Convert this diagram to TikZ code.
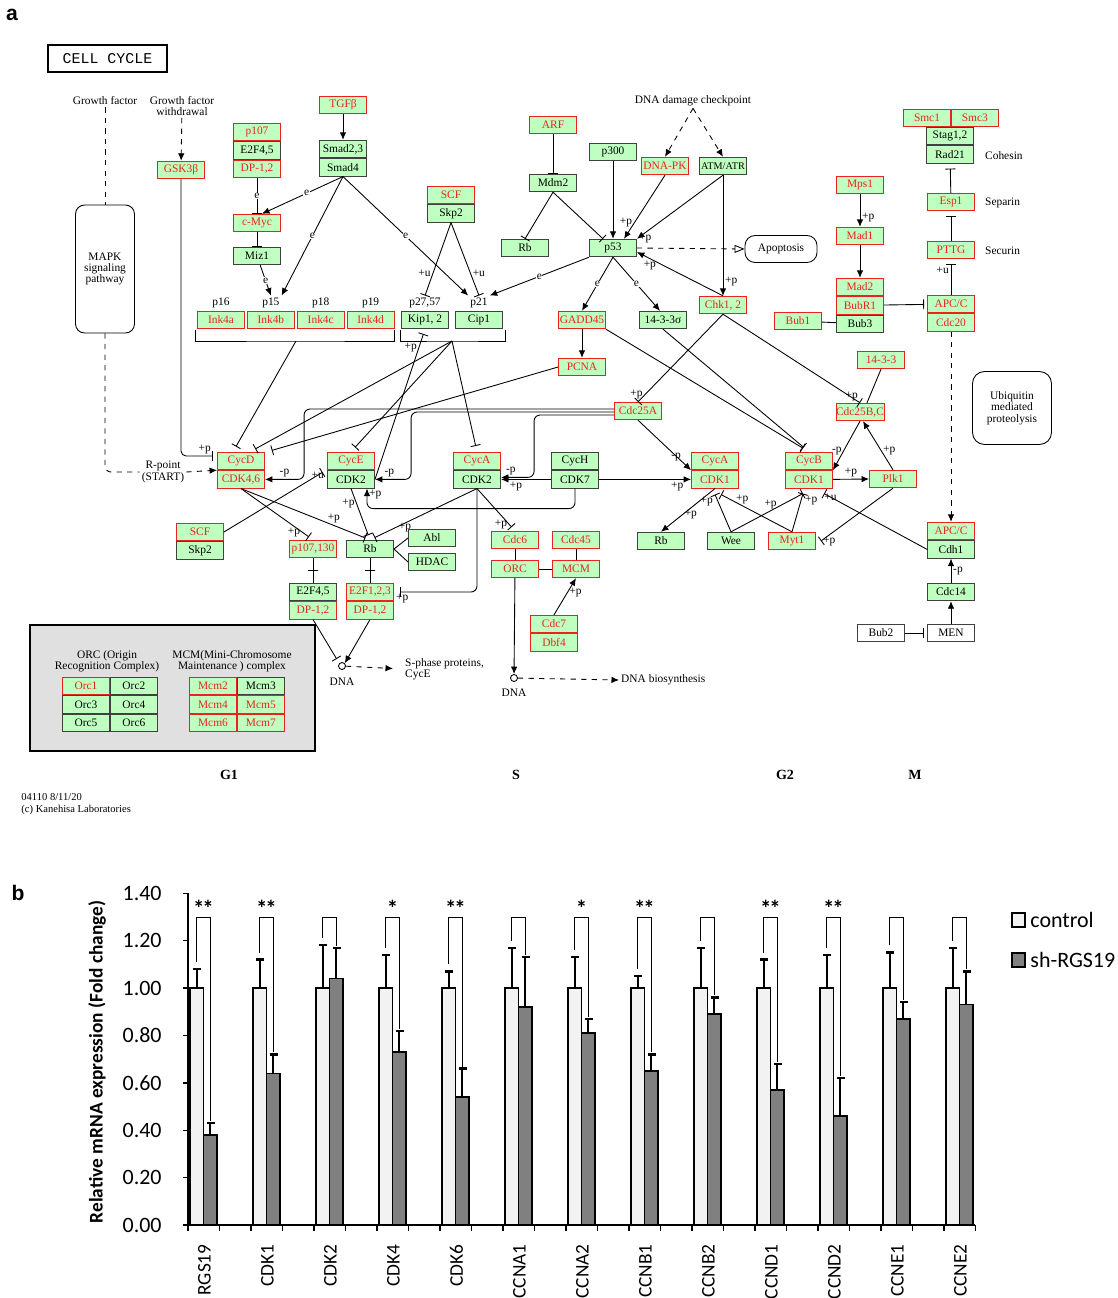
\documentclass[tikz,border=0pt]{standalone}
\usepackage{fontspec}
\setmainfont{Liberation Serif}
\newfontfamily\chartfont{Carlito}
\newfontfamily\panelfont{Liberation Sans}
\newfontfamily\titlefont{Liberation Mono}
\usepackage{tikz}
\usetikzlibrary{positioning,arrows.meta}
\usepackage{xcolor}
\definecolor{kfill}{RGB}{191,255,191}
\definecolor{kred}{RGB}{232,36,28}
\definecolor{ctrlbar}{RGB}{242,242,242}
\definecolor{shbar}{RGB}{128,128,128}
\definecolor{panelgray}{RGB}{224,224,224}
\newcommand{\kfont}{\fontsize{6.5}{6.5}\selectfont}
\newcommand{\dstar}{*\kern-1.2pt*}
\tikzset{
  gene/.style={draw=black!75, fill=kfill, font=\kfont, minimum width=0.94cm, minimum height=0.35cm, inner sep=0pt},
  hit/.style={gene, draw=kred, text=kred},
  whitebox/.style={gene, fill=white},
  lbl/.style={font=\kfont, inner sep=1pt},
  elbl/.style={font=\kfont, inner sep=0.3pt, fill=white},
  act/.style={-{Latex[length=1.5mm,width=1.3mm]}},
  inh/.style={-{Bar[width=2mm]}},
  tickbar/.style={draw, minimum width=0.2cm, minimum height=0pt, inner sep=0pt},
}

\begin{document}
\begin{tikzpicture}[x=0.02cm, y=-0.02cm, line width=0.5pt]
\path[use as bounding box, fill=white] (0,0) rectangle (1117,1298);

% panel a: KEGG cell cycle
\node[font=\panelfont\bfseries\fontsize{12}{14}\selectfont] (pa) at (12,15) {a};
\node[draw, line width=1.2pt, minimum width=2.38cm, minimum height=0.54cm, font=\titlefont\fontsize{8.5}{9}\selectfont] (title) at (107.5,58.5) {CELL CYCLE};

\node[lbl] (gf) at (105,101) {Growth factor};
\node[lbl, align=center] (gfw) at (182,106) {Growth factor\\withdrawal};
\node[draw, rounded corners=0.18cm, minimum width=1.18cm, minimum height=2.56cm, align=center, font=\kfont] (mapk) at (105,269) {MAPK\\signaling\\pathway};
\node[lbl, align=center] (rpoint) at (163,472) {R-point\\(START)};
\node[hit] (gsk) at (181,170) {GSK3β};

\node[hit] (tgfb) at (343,105) {TGFβ};
\node[gene] (smad23) at (343,149) {Smad2,3};
\node[gene, below=0pt of smad23] (smad4) {Smad4};
\node[hit] (p107) at (257,132) {p107};
\node[gene, below=0pt of p107] (e2f45a) {E2F4,5};
\node[hit, below=0pt of e2f45a] (dp12a) {DP-1,2};
\node[hit] (cmyc) at (257,223) {c-Myc};
\node[gene] (miz1) at (257,256) {Miz1};

\node[hit] (ink4a) at (221,320) {Ink4a};
\node[hit, right=0.04cm of ink4a] (ink4b) {Ink4b};
\node[hit, right=0.04cm of ink4b] (ink4c) {Ink4c};
\node[hit, right=0.04cm of ink4c] (ink4d) {Ink4d};
\node[lbl, above=0.5pt of ink4a] (p16) {p16};
\node[lbl, above=0.5pt of ink4b] (p15) {p15};
\node[lbl, above=0.5pt of ink4c] (p18) {p18};
\node[lbl, above=0.5pt of ink4d] (p19) {p19};
\node[gene] (kip) at (425,320) {Kip1, 2};
\node[gene] (cip) at (479,320) {Cip1};
\node[lbl, above=0.5pt of kip] (p2757) {p27,57};
\node[lbl, above=0.5pt of cip] (p21) {p21};
\coordinate (inkbr) at (296,341);
\coordinate (kipbr) at (452,341);
\draw (195,330) |- (inkbr) -| (394,330);
\draw (400,330) |- (kipbr) -| (505,330);

\node[hit] (scf1) at (451,195) {SCF};
\node[gene, below=0pt of scf1] (skp2a) {Skp2};
\node[hit] (arf) at (553,125) {ARF};
\node[gene] (mdm2) at (553,183) {Mdm2};
\node[gene] (rb1) at (525,248) {Rb};
\node[gene] (p300) at (613,152) {p300};
\node[lbl] (dnadmg) at (693,101) {DNA damage checkpoint};
\node[hit] (dnapk) at (665,166) {DNA-PK};
\node[gene, font=\fontsize{5.8}{6}\selectfont] (atm) at (723,166) {ATM/ATR};
\node[gene] (p53) at (613,248) {p53};
\node[draw, rounded corners=0.2cm, minimum width=1.44cm, minimum height=0.54cm, font=\kfont] (apop) at (781,249) {Apoptosis};
\node[hit] (chk) at (723,305) {Chk1, 2};
\node[hit] (gadd) at (582,320) {GADD45};
\node[gene] (sigma) at (663,320) {14-3-3σ};
\node[hit] (pcna) at (582,367) {PCNA};
\node[hit] (cdc25a) at (638,411) {Cdc25A};

\node[hit] (smc1) at (927,118) {Smc1};
\node[hit, right=0pt of smc1] (smc3) {Smc3};
\node[gene] (stag) at (950,136) {Stag1,2};
\node[gene, below=0pt of stag] (rad21) {Rad21};
\node[lbl, anchor=west] (cohesin) at (983,156) {Cohesin};
\node[hit] (esp1) at (951,202) {Esp1};
\node[lbl, anchor=west] (separin) at (983,203) {Separin};
\node[hit] (pttg) at (951,250) {PTTG};
\node[lbl, anchor=west] (securin) at (983,251) {Securin};
\node[hit] (apcc1) at (951,304) {APC/C};
\node[hit, below=0pt of apcc1] (cdc20) {Cdc20};
\node[hit] (mps1) at (860,185) {Mps1};
\node[hit] (mad1) at (860,236) {Mad1};
\node[hit] (mad2) at (860,287) {Mad2};
\node[hit, below=0pt of mad2] (bubr1) {BubR1};
\node[gene, below=0pt of bubr1] (bub3) {Bub3};
\node[hit] (bub1) at (798,321) {Bub1};
\node[hit] (s1433) at (881,360) {14-3-3};
\node[hit] (cdc25bc) at (860,412) {Cdc25B,C};
\node[draw, rounded corners=0.24cm, minimum width=1.58cm, minimum height=1.46cm, align=center, font=\kfont] (ubiq) at (1012,408) {Ubiquitin\\mediated\\proteolysis};

\node[hit] (cycd) at (241,461) {CycD};
\node[hit, below=0pt of cycd] (cdk46) {CDK4,6};
\node[hit] (cyce) at (351,461) {CycE};
\node[gene, below=0pt of cyce] (cdk2e) {CDK2};
\node[hit] (cyca2) at (477,461) {CycA};
\node[gene, below=0pt of cyca2] (cdk2a) {CDK2};
\node[gene] (cych) at (575,461) {CycH};
\node[gene, below=0pt of cych] (cdk7) {CDK7};
\node[hit] (cyca1) at (715,461) {CycA};
\node[hit, below=0pt of cyca1] (cdk1a) {CDK1};
\node[hit] (cycb) at (809,461) {CycB};
\node[hit, below=0pt of cycb] (cdk1b) {CDK1};
\node[hit] (plk1) at (893,479) {Plk1};

\node[hit] (scf2) at (200,532) {SCF};
\node[gene, below=0pt of scf2] (skp2b) {Skp2};
\node[hit] (p107130) at (313,549) {p107,130};
\node[gene] (rb2) at (370,549) {Rb};
\node[gene] (abl) at (432,538) {Abl};
\node[gene] (hdac) at (432,562) {HDAC};
\node[gene] (e2f45b) at (313,592) {E2F4,5};
\node[hit, below=0pt of e2f45b] (dp12b) {DP-1,2};
\node[hit] (e2f123) at (370,592) {E2F1,2,3};
\node[hit, below=0pt of e2f123] (dp12c) {DP-1,2};
\node[hit] (cdc6) at (515,540) {Cdc6};
\node[hit] (cdc45) at (576,540) {Cdc45};
\node[hit] (orc) at (515,569) {ORC};
\node[hit] (mcm) at (576,569) {MCM};
\node[hit] (cdc7) at (554,624) {Cdc7};
\node[hit, below=0pt of cdc7] (dbf4) {Dbf4};
\node[gene] (rb3) at (661,541) {Rb};
\node[gene] (wee) at (731,541) {Wee};
\node[hit] (myt1) at (792,541) {Myt1};
\node[hit] (apcc2) at (951,531) {APC/C};
\node[gene, below=0pt of apcc2] (cdh1) {Cdh1};
\node[gene] (cdc14) at (951,592) {Cdc14};
\node[whitebox] (men) at (951,633) {MEN};
\node[whitebox] (bub2) at (881,633) {Bub2};

\node[circle, draw, inner sep=0pt, minimum size=0.14cm] (dna1) at (342,666) {};
\node[lbl] (dna1t) at (342,682) {DNA};
\node[lbl, anchor=west, align=left] (sphase) at (403,669) {S-phase proteins,\\CycE};
\node[circle, draw, inner sep=0pt, minimum size=0.14cm] (dna2) at (514,678) {};
\node[lbl] (dna2t) at (514,693) {DNA};
\node[lbl, anchor=west] (dnabio) at (619,680) {DNA biosynthesis};

% ORC / MCM legend box
\draw[fill=panelgray, line width=1.2pt] (30,625) rectangle (315,751);
\node[lbl, align=center] (orclbl) at (107,661) {ORC (Origin\\Recognition Complex)};
\node[lbl, align=center] (mcmlbl) at (232,661) {MCM(Mini-Chromosome\\Maintenance ) complex};
\node[hit] (orc1) at (86,686) {Orc1};
\node[gene, right=0pt of orc1] (orc2) {Orc2};
\node[gene, below=0pt of orc1] (orc3) {Orc3};
\node[gene, right=0pt of orc3] (orc4) {Orc4};
\node[gene, below=0pt of orc3] (orc5) {Orc5};
\node[gene, right=0pt of orc5] (orc6) {Orc6};
\node[hit] (mcm2) at (213,686) {Mcm2};
\node[gene, right=0pt of mcm2] (mcm3) {Mcm3};
\node[hit, below=0pt of mcm2] (mcm4) {Mcm4};
\node[hit, right=0pt of mcm4] (mcm5) {Mcm5};
\node[hit, below=0pt of mcm4] (mcm6) {Mcm6};
\node[hit, right=0pt of mcm6] (mcm7) {Mcm7};

\node[font=\bfseries\fontsize{8}{9}\selectfont] (g1) at (229,775) {G1};
\node[font=\bfseries\fontsize{8}{9}\selectfont] (sph) at (516,775) {S};
\node[font=\bfseries\fontsize{8}{9}\selectfont] (g2) at (785,775) {G2};
\node[font=\bfseries\fontsize{8}{9}\selectfont] (mph) at (915,775) {M};
\node[font=\fontsize{6}{6.5}\selectfont, anchor=west, align=left, inner sep=0pt] (foot) at (21,804) {04110 8/11/20\\(c) Kanehisa Laboratories};

% connectors
\draw[dashed] (gf) -- (mapk);
\draw[dashed, rounded corners=0.12cm] (mapk.south) |- (rpoint.west);
\draw[dashed, act] (rpoint.east) -- (cycd.south west);
\draw[dashed, act] (gfw) -- (gsk);
\draw[inh, rounded corners=0.1cm] (gsk.south) |- ([xshift=-0.08cm, yshift=0.1cm]cycd.west) node[lbl, above left] {+p};
\draw[act] (tgfb) -- (smad23);
\draw[inh] (dp12a) -- node[elbl] {e} (cmyc);
\draw[act] (smad4.south) -- node[elbl, pos=0.45] {e} ([xshift=0.1cm]cmyc.north);
\draw[inh] (cmyc) -- (miz1);
\draw[act] (miz1) -- node[elbl] {e} (p15.north);
\draw[act] (smad4.south) -- node[elbl] {e} (p15.north east);
\draw[act] (smad4.south) -- node[elbl] {e} (p21.north west);
\draw[inh] (skp2a.south) -- node[lbl, left, pos=0.7] {+u} (p2757.north);
\draw[inh] (skp2a.south) -- node[lbl, right, pos=0.7] {+u} (p21.north);
\draw[inh] (arf) -- (mdm2);
\draw[inh] (mdm2.south) -- (rb1.north);
\draw[inh] (mdm2.south) -- ([xshift=-0.2cm]p53.north);
\draw[act] (p300) -- (p53);
\draw[dashed, act] (dnadmg.south) -- (dnapk.north);
\draw[dashed, act] (dnadmg.south) -- (atm.north);
\draw[act] (dnapk.south) -- node[lbl, left, pos=0.75] {+p} ([xshift=0.22cm]p53.north);
\draw[act] (atm.south) -- (p53.north east) node[lbl, right] {+p};
\draw[act] (atm.south) -- node[lbl, right, pos=0.88] {+p} (atm.south |- chk.north);
\draw[act] (chk.north) -- node[lbl, below, pos=0.85] {+p} ([yshift=-0.08cm]p53.east);
\draw[dashed, -{Triangle[open, length=2mm, width=1.6mm]}] (p53.east) -- (apop.west);
\draw[act] (p53.south west) -- node[elbl] {e} (p21.north east);
\draw[act] (p53.south) -- node[elbl] {e} (gadd.north);
\draw[act] (p53.south) -- node[elbl] {e} ([xshift=-0.06cm]sigma.north);
\draw[act] (gadd) -- (pcna);
\draw[inh] (chk.south) -- node[lbl, left, pos=0.92] {+p} (cdc25a.north);
\draw[inh] (chk.south) -- (cdc25bc.north) node[lbl, above left] {+p};
\draw (s1433.south) -- ([xshift=0.14cm]cdc25bc.north);
\draw[inh, shorten >=0.14cm] (gadd.south east) -- (cycb.north);
\draw[inh, shorten >=0.14cm] (sigma.south) -- (cycb.north);
\draw[act] (cdc25bc.south) -- node[lbl, left, pos=0.6] {-p} (cycb.south east);
\draw[act] (cdk1b.east) -- node[lbl, above] {+p} (plk1.west);
\draw[act] (plk1.north) -- node[lbl, right, pos=0.4] {+p} ([xshift=0.06cm]cdc25bc.south);
\draw[inh] (plk1.south) -- ([xshift=0.1cm]myt1.east) node[lbl, right] {+p};
\draw[act] (mps1) -- node[lbl, right, pos=0.7] {+p} (mad1);
\draw[act] (mad1) -- (mad2);
\draw (bub1) -- (bub3);
\draw[inh, shorten >=0.06cm] (bubr1) -- (apcc1);
\draw[inh, shorten >=0.1cm] (esp1) -- (rad21);
\draw[inh, shorten >=0.1cm] (pttg) -- (esp1);
\draw[inh, shorten >=0.1cm] (apcc1) -- node[lbl, left, pos=0.7] {+u} (pttg);
\draw[dashed, act] (cdc20) -- (apcc2);
\draw[act] (cdc14) -- node[lbl, right] {-p} (cdh1);
\draw[act] (men) -- (cdc14);
\draw[inh, shorten >=0.06cm] (bub2) -- (men);
\draw[inh] (cdh1.west) -- ([xshift=0.3cm, yshift=-0.1cm]cdk1b.south) node[lbl, below right, inner sep=0pt] {+u};
\draw[inh] (wee.north) -- ([yshift=-0.12cm]cdk1a.south) node[lbl, below left] {+p};
\draw[inh] (wee.north) -- ([xshift=-0.12cm, yshift=-0.1cm]cdk1b.south) node[lbl, pos=0.55, above] {+p};
\draw[inh] (myt1.north) -- ([xshift=0.12cm, yshift=-0.12cm]cdk1a.south) node[lbl, pos=0.7, above] {+p};
\draw[inh] (myt1.north) -- ([xshift=-0.12cm, yshift=-0.1cm]cdk1b.south) node[lbl, below right] {+p};
\draw[act] (cdk1a.south) -- node[lbl, right, pos=0.6] {+p} (rb3.north);
\draw[act] (cdk7.west) -- node[lbl, below, pos=0.7] {+p} (cdk2a.east);
\draw[act] (cdk7.east) -- node[lbl, below, pos=0.85] {+p} (cdk1a.west);
\draw[act, rounded corners=0.12cm] (cdk7.south) -- ++(0,20) -| node[lbl, right, pos=0.85] {+p} ([xshift=0.32cm]cdk2e.south);
\draw[act, rounded corners=0.12cm] ([yshift=-0.08cm]cdc25a.west) -- ++(-80,0) |- node[lbl, above, pos=0.85] {-p} ([yshift=0.04cm]cdk2a.east);
\draw[act, rounded corners=0.12cm] ([yshift=-0.02cm]cdc25a.west) -- ++(-203,0) |- node[lbl, above, pos=0.8] {-p} (cdk2e.east);
\draw[act, rounded corners=0.12cm] ([yshift=0.04cm]cdc25a.west) -- ++(-310,0) |- node[lbl, above, pos=0.75] {-p} (cdk46.east);
\draw[act] (cdc25a.south) -- node[lbl, above left, pos=0.85] {-p} (cyca1.south west);
\draw[inh, shorten >=0.12cm] (inkbr) -- ([xshift=-0.16cm]cycd.north);
\draw[inh, shorten >=0.12cm] (kipbr) -- ([xshift=0.18cm]cycd.north);
\draw[inh, shorten >=0.12cm] (kipbr) -- (cyce.north);
\draw[inh, shorten >=0.12cm] (kipbr) -- (cyca2.north);
\draw[inh, shorten >=0.1cm] (cdk2e.east) -- node[lbl, left, pos=0.88] {+p} (kip.south);
\draw[inh, shorten >=0.1cm] (pcna.west) -- ([xshift=0.52cm]cycd.north);
\draw[inh, shorten >=0.1cm] (cdk46.south) -- node[lbl, left, pos=0.85] {+p} (p107130.north);
\draw[inh, shorten >=0.1cm] (cdk46.south) -- node[lbl, above, pos=0.72] {+p} (rb2.north);
\draw[inh, shorten >=0.1cm] (cdk2e.south) -- node[lbl, left, pos=0.3] {+p} (rb2.north);
\draw[inh, shorten >=0.1cm] (cdk2a.south) -- node[lbl, right, pos=0.75] {+p} (rb2.north);
\draw[inh, rounded corners=0.12cm, shorten >=0.12cm] (cdk2a.south) |- (e2f123.east) node[lbl, below right] {+p};
\draw[inh, shorten >=0.1cm] (cdk2a.south) -- node[lbl, left, pos=0.85] {+p} (cdc6.north);
\draw[inh, shorten >=0.08cm] (scf2.east) -- ([xshift=-0.02cm]cyce.south west) node[lbl, below left] {+u};
\draw (p107130) -- node[tickbar] {} (e2f45b);
\draw (rb2) -- node[tickbar] {} (e2f123);
\draw (rb2.east) -- (abl.west);
\draw (rb2.east) -- (hdac.west);
\draw[inh, shorten >=0.1cm] (dp12b.south) -- (dna1.north west);
\draw[act] (dp12c.south) -- (dna1.north east);
\draw[dashed, act, shorten >=0.2cm] (dna1) -- (sphase.west);
\draw (cdc6) -- (orc);
\draw (cdc45) -- (mcm);
\draw (orc) -- (mcm);
\draw[act] (cdc7.north) -- node[lbl, right, pos=0.6] {+p} (mcm.south);
\draw[act] (orc) -- (dna2);
\draw[dashed, act] (dna2) -- (dnabio.west);

% panel b: qPCR bar chart
\node[font=\panelfont\bfseries\fontsize{12}{14}\selectfont] (pb) at (18,893) {b};
\draw[line width=0.8pt] (188,893) -- (188,1225) -- (975,1225);
\foreach \v/\t in {0/0.00,1/0.20,2/0.40,3/0.60,4/0.80,5/1.00,6/1.20,7/1.40} {
  \draw[line width=0.8pt] (183,{1225-47.4*\v}) -- (188,{1225-47.4*\v});
  \node[anchor=east, font=\chartfont\fontsize{12.5}{14}\selectfont, inner sep=0pt] (yt\v) at (162,{1225-47.4*\v}) {\t};
}
\foreach \k in {0,...,25}
  \draw[line width=0.8pt] ({188+31.5*\k},1225) -- ++(0,6);
\node[rotate=90, font=\chartfont\bfseries\fontsize{11}{13}\selectfont] (ylab) at (97,1062) {Relative mRNA expression (Fold change)};

\foreach \g/\s/\ce/\se/\st [count=\i from 0] in {RGS19/0.38/1.08/0.43/\dstar, CDK1/0.64/1.12/0.72/\dstar, CDK2/1.04/1.18/1.17/{}, CDK4/0.73/1.14/0.82/*, CDK6/0.54/1.07/0.66/\dstar, CCNA1/0.92/1.17/1.13/{}, CCNA2/0.81/1.13/0.87/*, CCNB1/0.65/1.05/0.72/\dstar, CCNB2/0.89/1.17/0.96/{}, CCND1/0.57/1.12/0.68/\dstar, CCND2/0.46/1.14/0.62/\dstar, CCNE1/0.87/1.15/0.94/{}, CCNE2/0.93/1.17/1.07/{}} {
  \pgfmathsetmacro\xa{190+63*\i}
  \pgfmathsetmacro\xb{\xa+13.5}
  \pgfmathsetmacro\xc{\xa+27}
  \pgfmathsetmacro\ys{1225-237*\s}
  \pgfmathsetmacro\yce{1225-237*\ce}
  \pgfmathsetmacro\yse{1225-237*\se}
  \draw[fill=ctrlbar, line width=0.8pt] (\xa,1225) rectangle (\xb,988);
  \draw[fill=shbar, line width=0.8pt] (\xb,1225) rectangle (\xc,\ys);
  \draw[line width=1.3pt] ({\xa+6.75},988) -- ({\xa+6.75},\yce);
  \draw[line width=1.3pt] ({\xa+3},\yce) -- ({\xa+11},\yce);
  \draw[line width=1.3pt] ({\xb+6.75},\ys) -- ({\xb+6.75},\yse);
  \draw[line width=1.3pt] ({\xb+3},\yse) -- ({\xb+11},\yse);
  \draw[line width=0.5pt] ({\xa+6.75},{\yce-7}) -- ({\xa+6.75},917) -- ({\xb+6.75},917) -- ({\xb+6.75},{\yse-2});
  \node[font=\chartfont\bfseries\fontsize{13}{14}\selectfont, inner sep=0pt] (star\i) at (\xb,908) {\st};
  \node[rotate=90, anchor=east, font=\chartfont\fontsize{11}{13}\selectfont, inner sep=0pt] (cat\i) at ({\xb+1},1244) {\g};
}
\draw[fill=ctrlbar, line width=0.8pt] (1012,913) rectangle (1025,927);
\node[anchor=west, font=\chartfont\fontsize{12.5}{14}\selectfont, inner sep=0pt] (legc) at (1030,920) {control};
\draw[fill=shbar, line width=0.8pt] (1012,953) rectangle (1025,967);
\node[anchor=west, font=\chartfont\fontsize{12.5}{14}\selectfont, inner sep=0pt] (legs) at (1030,960) {sh-RGS19};
\end{tikzpicture}
\end{document}
